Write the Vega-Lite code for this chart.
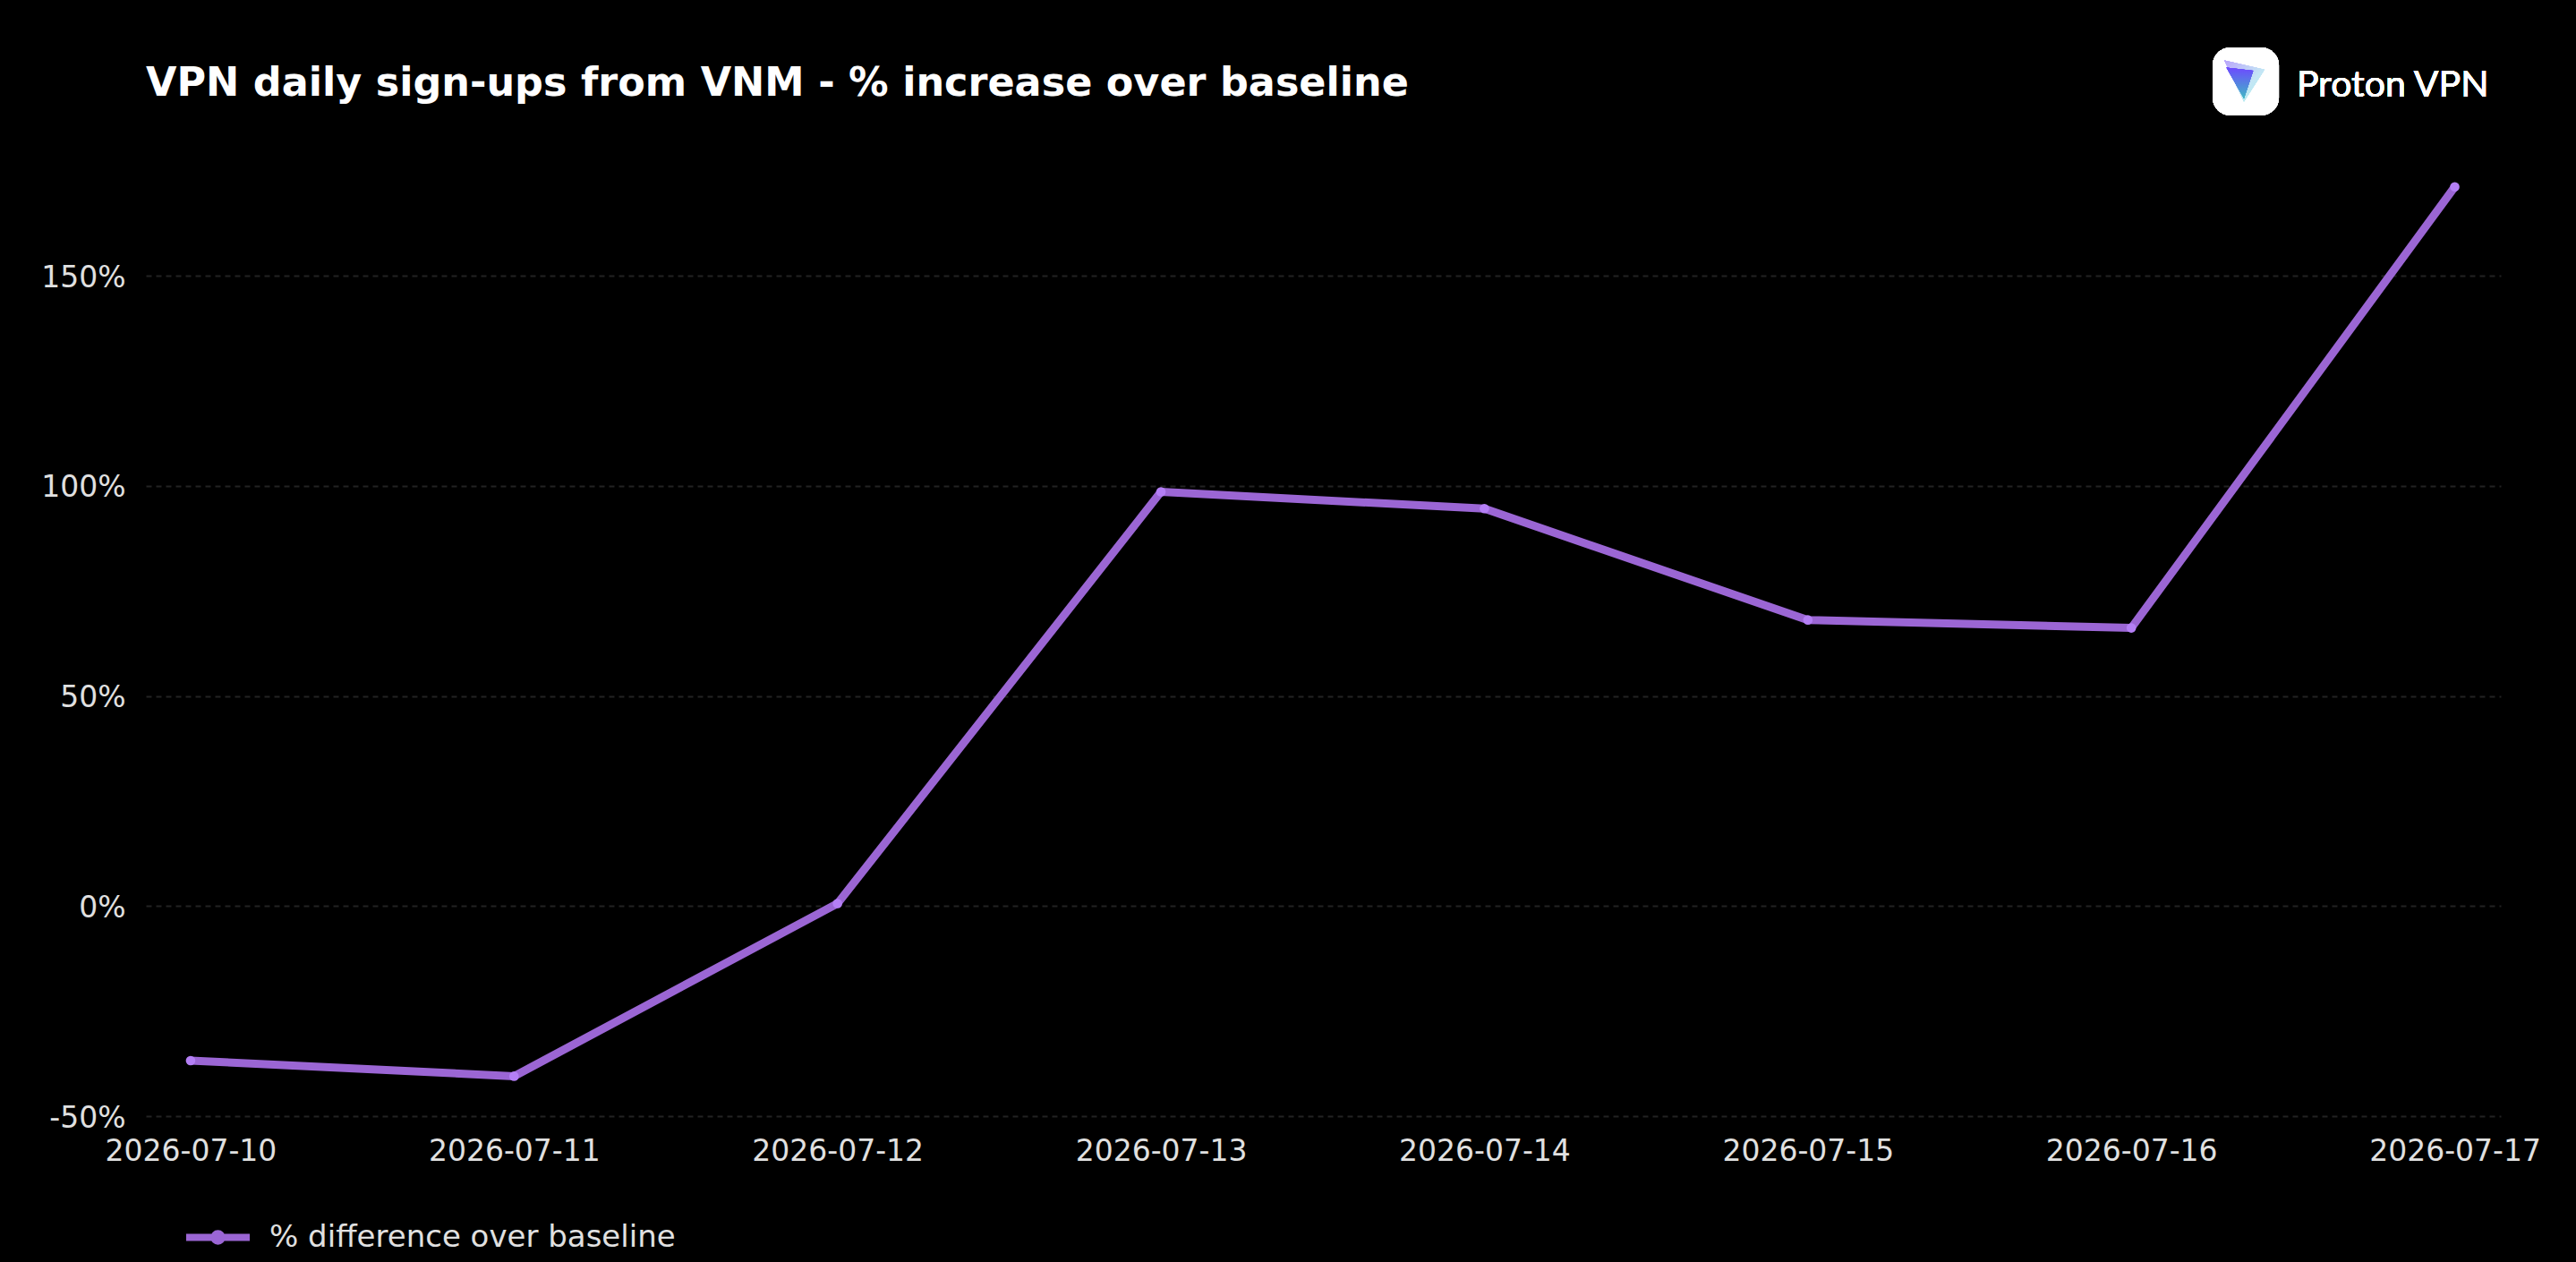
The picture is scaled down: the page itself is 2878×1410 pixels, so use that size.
{
  "$schema": "https://vega.github.io/schema/vega-lite/v6.json",
  "width": 2631,
  "height": 1103,
  "autosize": "none",
  "padding": {"left": 163, "top": 144, "right": 84, "bottom": 163},
  "background": "#000000",
  "title": {
    "text": "VPN daily sign-ups from VNM - % increase over baseline",
    "anchor": "start",
    "frame": "group",
    "font": "DejaVu Sans",
    "fontSize": 44.5,
    "fontWeight": "bold",
    "color": "#ffffff",
    "offset": -64
  },
  "config": {
    "view": {"stroke": null},
    "font": "DejaVu Sans"
  },
  "data": {
    "values": [
      {"date": "2026-07-10T00:00:00Z", "pct": -36.8},
      {"date": "2026-07-11T00:00:00Z", "pct": -40.5},
      {"date": "2026-07-12T00:00:00Z", "pct": 0.6},
      {"date": "2026-07-13T00:00:00Z", "pct": 98.6},
      {"date": "2026-07-14T00:00:00Z", "pct": 94.6},
      {"date": "2026-07-15T00:00:00Z", "pct": 68.1},
      {"date": "2026-07-16T00:00:00Z", "pct": 66.2},
      {"date": "2026-07-17T00:00:00Z", "pct": 171.2}
    ]
  },
  "encoding": {
    "x": {
      "field": "date",
      "type": "temporal",
      "title": null,
      "scale": {
        "type": "utc",
        "domain": [
          {"year": 2026, "month": 7, "date": 9, "hours": 20, "minutes": 41, "utc": true},
          {"year": 2026, "month": 7, "date": 17, "hours": 3, "minutes": 25, "utc": true}
        ]
      },
      "axis": {
        "labelExpr": "utcFormat(datum.value, '%Y-%m-%d')",
        "tickCount": {"interval": "day", "step": 1},
        "grid": false,
        "domain": false,
        "ticks": false,
        "labelFontSize": 33,
        "labelColor": "#e0e0e0",
        "labelPadding": 23,
        "labelOverlap": false,
        "labelFlush": false,
        "labelLimit": 400
      }
    },
    "y": {
      "field": "pct",
      "type": "quantitative",
      "title": null,
      "scale": {"domain": [-50, 185], "nice": false, "zero": false},
      "axis": {
        "values": [-50, 0, 50, 100, 150],
        "labelExpr": "datum.value + '%'",
        "grid": true,
        "gridColor": "#222222",
        "gridDash": [6, 5],
        "gridWidth": 2,
        "domain": false,
        "ticks": false,
        "labelFontSize": 33,
        "labelColor": "#e0e0e0",
        "labelPadding": 23,
        "labelOffset": 2
      }
    }
  },
  "layer": [
    {
      "mark": {"type": "line", "strokeWidth": 9, "strokeCap": "round", "strokeJoin": "round"},
      "encoding": {
        "color": {
          "datum": "% difference over baseline",
          "scale": {"range": ["#9b66d4"]},
          "legend": {
            "title": null,
            "orient": "none",
            "legendX": 41,
            "legendY": 1199,
            "symbolType": "M-1,0L1,0M-0.12,0a0.12,0.12 0 1,0 0.24,0a0.12,0.12 0 1,0 -0.24,0",
            "symbolSize": 5041,
            "symbolStrokeWidth": 8,
            "symbolFillColor": "#b47ff5",
            "labelFontSize": 34,
            "labelColor": "#e0e0e0",
            "labelOffset": 18,
            "labelLimit": 700
          }
        }
      }
    },
    {
      "mark": {"type": "point", "filled": true, "size": 113, "color": "#b47ff5", "opacity": 1}
    },
    {
      "mark": {"type": "rect", "fill": "#ffffff", "cornerRadius": 20},
      "encoding": {
        "x": {"datum": {"year": 2026, "month": 7, "date": 16, "hours": 6, "minutes": 2, "utc": true}, "type": "temporal"},
        "x2": {"datum": {"year": 2026, "month": 7, "date": 16, "hours": 10, "minutes": 57, "utc": true}},
        "y": {"datum": 204.4, "type": "quantitative"},
        "y2": {"datum": 188.2}
      }
    },
    {
      "mark": {
        "type": "point",
        "filled": true,
        "opacity": 1,
        "size": 2116,
        "shape": "M-1,-1L0.95,-0.55L-0.05,1Z",
        "fill": {
          "gradient": "linear", "x1": 0, "y1": 0, "x2": 1, "y2": 1,
          "stops": [{"offset": 0, "color": "#b9a5fb"}, {"offset": 0.6, "color": "#c4e6f5"}, {"offset": 1, "color": "#a5f0ea"}]
        }
      },
      "encoding": {
        "x": {"datum": {"year": 2026, "month": 7, "date": 16, "hours": 8, "minutes": 26, "utc": true}, "type": "temporal"},
        "y": {"datum": 196.4, "type": "quantitative"}
      }
    },
    {
      "mark": {
        "type": "point",
        "filled": true,
        "opacity": 1,
        "size": 2116,
        "shape": "M-0.9,-0.65L0.4,-0.5L-0.05,0.85Z",
        "fill": {
          "gradient": "linear", "x1": 0, "y1": 0, "x2": 0, "y2": 1,
          "stops": [{"offset": 0, "color": "#6d4aff"}, {"offset": 1, "color": "#3fb8c4"}]
        }
      },
      "encoding": {
        "x": {"datum": {"year": 2026, "month": 7, "date": 16, "hours": 8, "minutes": 26, "utc": true}, "type": "temporal"},
        "y": {"datum": 196.4, "type": "quantitative"}
      }
    },
    {
      "mark": {"type": "text", "text": "Proton VPN", "align": "left", "baseline": "middle", "font": "Lato", "fontSize": 41, "color": "#ffffff"},
      "encoding": {
        "x": {"datum": {"year": 2026, "month": 7, "date": 16, "hours": 12, "minutes": 16, "utc": true}, "type": "temporal"},
        "y": {"datum": 195.2, "type": "quantitative"}
      }
    }
  ]
}
